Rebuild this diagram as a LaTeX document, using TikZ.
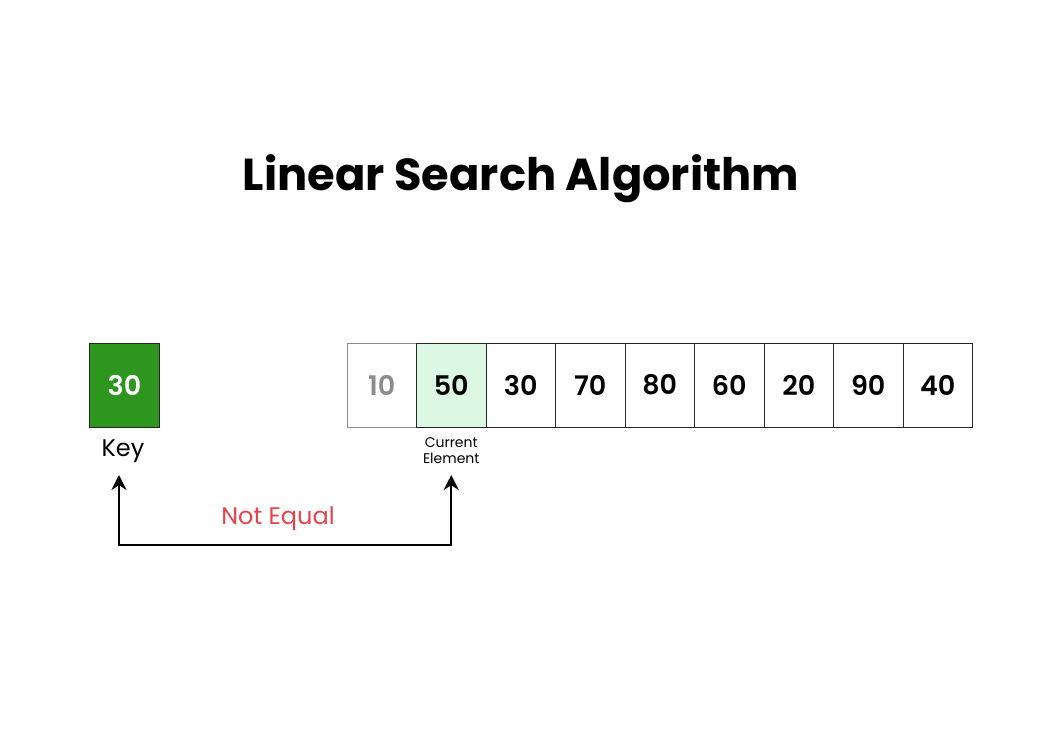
\documentclass[tikz,border=0pt]{standalone}
\usepackage{fontspec}
\setmainfont{Poppins}
\newfontfamily\semibf{Poppins SemiBold}
\usetikzlibrary{positioning,arrows.meta}

\definecolor{keygreen}{RGB}{46,150,30}
\definecolor{curgreen}{RGB}{220,248,226}
\definecolor{noteqred}{RGB}{232,66,74}

\begin{document}
\begin{tikzpicture}[x=1pt, y=-1pt]
  \tikzset{
    cell/.style={draw=black!85, line width=1pt, outer sep=0pt, inner sep=0pt,
      minimum width=69.5pt, minimum height=84pt,
      font=\fontsize{27}{30}\selectfont\semibf},
    link/.style={line width=2pt, {Stealth[length=15pt,width=15pt]}-{Stealth[length=15pt,width=15pt]}},
  }
  \useasboundingbox (0,0) rectangle (1043,746);

  % title
  \node (title) at (521,179) {\fontsize{44.8}{50}\selectfont\bfseries Linear Search Algorithm};

  % key
  \node[cell, minimum width=70pt, fill=keygreen, text=white] (key) at (124.5,385) {30};
  \node[font=\fontsize{24}{28}\selectfont] (keylbl) at (123,451) {Key};

  % array
  \node[cell, draw=black!45, text=black!45, anchor=north west] (c1) at (347,343) {10};
  \node[cell, fill=curgreen, right=0pt of c1] (c2) {50};
  \foreach \v [count=\i from 3, evaluate=\i as \j using int(\i-1)] in {30,70,80,60,20,90,40}
    \node[cell, right=0pt of c\j] (c\i) {\v};

  \node[font=\fontsize{14}{16}\selectfont, align=center] (curlbl) at (c2 |- 0,451) {Current\\Element};

  % compare arrow
  \coordinate (ktip) at (119,475);
  \coordinate (ctip) at (c2 |- 0,475);
  \coordinate (bot) at (280,545);
  \draw[link] (ktip) |- (bot) -| (ctip);
  \node[text=noteqred, font=\fontsize{24}{28}\selectfont] (noteq) at (278,519) {Not Equal};
\end{tikzpicture}
\end{document}
